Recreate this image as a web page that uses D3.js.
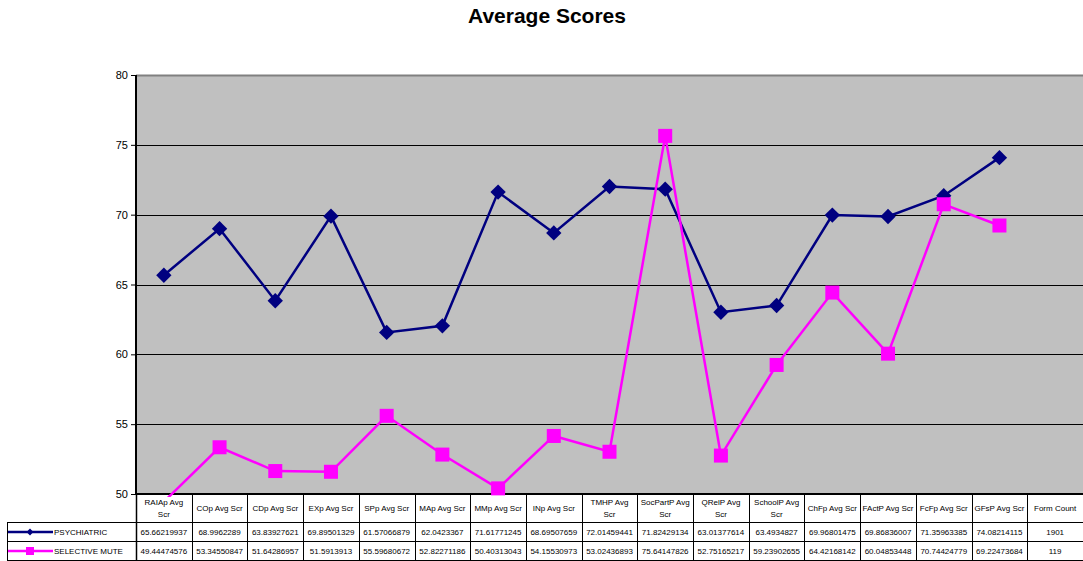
<!DOCTYPE html>
<html>
<head>
<meta charset="utf-8" />
<script src="https://cdn.jsdelivr.net/npm/d3@7"></script>
<style>
  body { margin: 0; background: #fff; }
  text { font-family: Arial, "Liberation Sans", sans-serif; }
</style>
</head>
<body>
<svg id="chart"></svg>
<script>
var categories = ['RAIAp Avg Scr', 'COp Avg Scr', 'CDp Avg Scr', 'EXp Avg Scr', 'SPp Avg Scr',
    'MAp Avg Scr', 'MMp Avg Scr', 'INp Avg Scr', 'TMHP Avg Scr', 'SocPartP Avg Scr', 'QRelP Avg Scr',
    'SchoolP Avg Scr', 'ChFp Avg Scr', 'FActP Avg Scr', 'FcFp Avg Scr', 'GFsP Avg Scr', 'Form Count'];

var psychiatric = [65.66219937, 68.9962289, 63.83927621, 69.89501329, 61.57066879, 62.0423367,
    71.61771245, 68.69507659, 72.01459441, 71.82429134, 63.01377614, 63.4934827, 69.96801475,
    69.86836007, 71.35963385, 74.08214115, 1901];

var selectiveMute = [49.44474576, 53.34550847, 51.64286957, 51.5913913, 55.59680672, 52.82271186,
    50.40313043, 54.15530973, 53.02436893, 75.64147826, 52.75165217, 59.23902655, 64.42168142,
    60.04853448, 70.74424779, 69.22473684, 119];

var seriesNames = ['PSYCHIATRIC', 'SELECTIVE MUTE'];
var yTicks = [50, 55, 60, 65, 70, 75, 80];

var W = 1083, H = 561,
    plot = {left: 136, right: 1083, top: 75, bottom: 494},
    rowY = [494, 522, 541, 560];

var svg = d3.select('#chart').attr('width', W).attr('height', H);

var x = d3.scaleBand().domain(categories).range([plot.left, plot.right]);
var y = d3.scaleLinear().domain([50, 80]).range([plot.bottom, plot.top]);

svg.append('text').attr('x', 547).attr('y', 23).attr('text-anchor', 'middle')
    .style('font-size', '21px').style('font-weight', 'bold').text('Average Scores');

// plot area
svg.append('rect').attr('x', plot.left).attr('y', plot.top)
    .attr('width', plot.right - plot.left).attr('height', plot.bottom - plot.top)
    .attr('fill', '#c0c0c0');
svg.append('line').attr('x1', plot.left).attr('x2', plot.right).attr('y1', plot.top + 0.5).attr('y2', plot.top + 0.5)
    .attr('stroke', '#808080').attr('stroke-width', 2);

svg.selectAll('.grid').data(yTicks.filter(function(d) { return d > 50 && d < 80; }))
  .enter().append('line').attr('class', 'grid')
    .attr('x1', plot.left).attr('x2', plot.right)
    .attr('y1', function(d) { return Math.round(y(d)) + 0.5; })
    .attr('y2', function(d) { return Math.round(y(d)) + 0.5; })
    .attr('stroke', '#000').attr('stroke-width', 1);

var yAxis = d3.axisLeft(y).tickValues(yTicks).tickSize(5).tickPadding(3);
var gy = svg.append('g').attr('transform', 'translate(' + plot.left + ',0)').call(yAxis);
gy.select('.domain').attr('stroke', '#000').attr('stroke-width', 2).attr('d', 'M0,' + plot.top + 'V' + plot.bottom);
gy.selectAll('.tick line').attr('stroke', '#000');
gy.selectAll('.tick text').style('font-size', '11px').attr('fill', '#000').style('font-family', 'Arial, "Liberation Sans", sans-serif');

// data table
var table = svg.append('g');
var lineC = '#000';
table.append('line').attr('x1', plot.left).attr('x2', plot.right).attr('y1', plot.bottom).attr('y2', plot.bottom)
    .attr('stroke', lineC).attr('stroke-width', 2);
[rowY[1], rowY[2], rowY[3]].forEach(function(yy) {
  table.append('line').attr('x1', 7).attr('x2', plot.right).attr('y1', yy + 0.5).attr('y2', yy + 0.5)
      .attr('stroke', lineC).attr('stroke-width', 1);
});
table.append('line').attr('x1', 7.5).attr('x2', 7.5).attr('y1', rowY[1]).attr('y2', rowY[3])
    .attr('stroke', lineC);
categories.forEach(function(c, i) {
  var xx = Math.round(x(c)) + 0.5;
  table.append('line').attr('x1', xx).attr('x2', xx).attr('y1', rowY[0]).attr('y2', rowY[3] + 0.5)
      .attr('stroke', lineC).attr('stroke-width', i === 0 ? 1.5 : 1);
});

// header labels, wrapped when too wide for the column
categories.forEach(function(c) {
  var cx = x(c) + x.bandwidth() / 2;
  var t = table.append('text').attr('x', cx).attr('text-anchor', 'middle')
      .style('font-size', '8px').attr('fill', '#000').text(c);
  if (t.node().getComputedTextLength() > x.bandwidth() - 4) {
    var words = c.split(' ');
    var last = words.pop();
    t.text(null);
    t.append('tspan').attr('x', cx).attr('y', 505).text(words.join(' '));
    t.append('tspan').attr('x', cx).attr('y', 517).text(last);
  } else {
    t.attr('y', 511);
  }
});

[psychiatric, selectiveMute].forEach(function(vals, r) {
  var yy = (rowY[r + 1] + rowY[r + 2]) / 2 + 3;
  table.selectAll(null).data(vals).enter().append('text')
      .attr('x', function(d, i) { return x(categories[i]) + x.bandwidth() / 2; })
      .attr('y', yy).attr('text-anchor', 'middle').style('font-size', '8px').attr('fill', '#000')
      .text(function(d) { return String(d); });
});

var colors = ['#000080', '#ff00ff'];

// legend keys in table
seriesNames.forEach(function(name, r) {
  var yy = (rowY[r + 1] + rowY[r + 2]) / 2 + 0.5;
  table.append('line').attr('x1', 8).attr('x2', 53).attr('y1', yy).attr('y2', yy)
      .attr('stroke', colors[r]).attr('stroke-width', 2.5);
  if (r === 0) {
    table.append('path').attr('d', d3.symbol().type(d3.symbolDiamond2).size(30)())
        .attr('transform', 'translate(30,' + yy + ')').attr('fill', colors[r]);
  } else {
    table.append('rect').attr('x', 26).attr('y', yy - 4).attr('width', 8).attr('height', 8).attr('fill', colors[r]);
  }
  table.append('text').attr('x', 54).attr('y', yy + 3).style('font-size', '8px').attr('fill', '#000').text(name);
});

// series
svg.append('clipPath').attr('id', 'clip').append('rect')
    .attr('x', plot.left).attr('y', plot.top).attr('width', plot.right - plot.left).attr('height', plot.bottom - plot.top + 3);

var line = d3.line()
    .x(function(d, i) { return x(categories[i]) + x.bandwidth() / 2; })
    .y(function(d) { return y(d); });

var series = svg.append('g').attr('clip-path', 'url(#clip)');
[psychiatric, selectiveMute].forEach(function(vals, r) {
  var pts = vals.slice(0, vals.length - 1);
  series.append('path').datum(pts).attr('d', line).attr('fill', 'none')
      .attr('stroke', colors[r]).attr('stroke-width', 2.5);
});

var plotted = function(vals) { return vals.slice(0, vals.length - 1).map(function(v, i) { return {v: v, c: categories[i]}; })
    .filter(function(d) { return d.v >= 50 && d.v <= 80; }); };

svg.selectAll('.dia').data(plotted(psychiatric)).enter().append('path').attr('class', 'dia')
    .attr('d', d3.symbol().type(d3.symbolDiamond2).size(150)())
    .attr('transform', function(d) { return 'translate(' + (x(d.c) + x.bandwidth() / 2) + ',' + y(d.v) + ')'; })
    .attr('fill', colors[0]);

svg.selectAll('.sq').data(plotted(selectiveMute)).enter().append('rect').attr('class', 'sq')
    .attr('x', function(d) { return x(d.c) + x.bandwidth() / 2 - 7; })
    .attr('y', function(d) { return y(d.v) - 7; })
    .attr('width', 14).attr('height', 14)
    .attr('fill', colors[1]);
</script>
</body>
</html>
